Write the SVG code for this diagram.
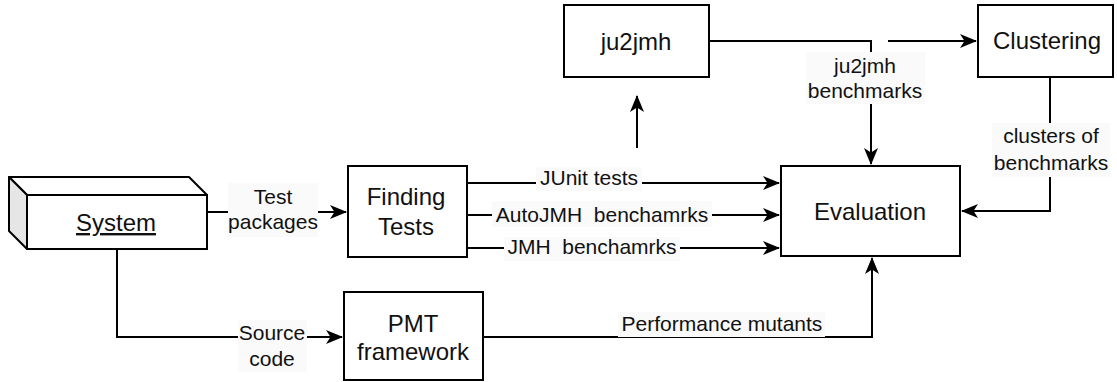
<svg xmlns="http://www.w3.org/2000/svg" width="1117" height="382" viewBox="0 0 1117 382">
  <style>
    .box { fill: #ffffff; stroke: #000000; stroke-width: 2; }
    .face { stroke: #000000; stroke-width: 2; stroke-linejoin: round; }
    .node { font-family: "Liberation Sans", Arial, sans-serif; font-size: 24px; fill: #111111; text-anchor: middle; }
    .lbl { font-family: "Liberation Sans", Arial, sans-serif; font-size: 21px; fill: #111111; text-anchor: middle; }
    .lblbg { fill: #fafafa; stroke: none; }
    .edge { fill: none; stroke: #000000; stroke-width: 2; }
  </style>
  <defs>
    <marker id="arrow" markerUnits="userSpaceOnUse" markerWidth="17" markerHeight="14" refX="16" refY="7" orient="auto" overflow="visible">
      <path d="M0,0 L17,7 L0,14 L4.5,7 Z" fill="#000000"/>
    </marker>
  </defs>

  <rect width="1117" height="382" fill="#ffffff"/>

  <!-- connectors -->
  <g id="connectors">
    <path class="edge" d="M207,212 H346" marker-end="url(#arrow)"/>
    <path class="edge" d="M117,249 V337 H342" marker-end="url(#arrow)"/>
    <path class="edge" d="M467,183 H779" marker-end="url(#arrow)"/>
    <path class="edge" d="M467,215 H779" marker-end="url(#arrow)"/>
    <path class="edge" d="M467,248 H779" marker-end="url(#arrow)"/>
    <path class="edge" d="M637,148 V96" marker-end="url(#arrow)"/>
    <path class="edge" d="M709,41 H871 V164" marker-end="url(#arrow)"/>
    <path class="edge" d="M888,41 H976" marker-end="url(#arrow)"/>
    <path class="edge" d="M1050,77 V211 H962" marker-end="url(#arrow)"/>
    <path class="edge" d="M483,337 H872 V258" marker-end="url(#arrow)"/>

    <!-- edge labels -->
    <rect class="lblbg" x="228" y="183" width="90" height="54"/>
    <text class="lbl" x="273" y="204">Test</text>
    <text class="lbl" x="273" y="229">packages</text>

    <rect class="lblbg" x="238" y="320" width="69" height="52"/>
    <text class="lbl" x="272" y="340">Source</text>
    <text class="lbl" x="272" y="366">code</text>

    <rect class="lblbg" x="536" y="167" width="106" height="24"/>
    <text class="lbl" x="589" y="185">JUnit tests</text>

    <rect class="lblbg" x="492" y="201" width="220" height="26"/>
    <text class="lbl" x="602" y="222" xml:space="preserve">AutoJMH  benchamrks</text>

    <rect class="lblbg" x="504" y="237" width="176" height="24"/>
    <text class="lbl" x="592" y="254" xml:space="preserve">JMH  benchamrks</text>

    <rect class="lblbg" x="806" y="52" width="119" height="52"/>
    <text class="lbl" x="865" y="73">ju2jmh</text>
    <text class="lbl" x="865" y="98">benchmarks</text>

    <rect class="lblbg" x="992" y="123" width="118" height="54"/>
    <text class="lbl" x="1051" y="143">clusters of</text>
    <text class="lbl" x="1051" y="170">benchmarks</text>

    <rect class="lblbg" x="618" y="312" width="207" height="25"/>
    <text class="lbl" x="722" y="331">Performance mutants</text>
  </g>

  <!-- System: 3D box -->
  <g id="system">
    <polygon class="face" points="9,177 189,177 207,195 27,195" fill="#ffffff"/>
    <polygon class="face" points="9,177 27,195 27,249 9,231" fill="#e6e6e6"/>
    <rect class="box" x="27" y="195" width="180" height="54"/>
    <text class="node" x="116" y="231" text-decoration="underline">System</text>
  </g>

  <g id="finding-tests">
    <rect class="box" x="348" y="166" width="119" height="91"/>
    <text class="node" x="406" y="205">Finding</text>
    <text class="node" x="406" y="235">Tests</text>
  </g>

  <g id="ju2jmh">
    <rect class="box" x="564" y="5" width="145" height="72"/>
    <text class="node" x="636" y="50">ju2jmh</text>
  </g>

  <g id="clustering">
    <rect class="box" x="978" y="5" width="135" height="72"/>
    <text class="node" x="1047" y="49">Clustering</text>
  </g>

  <g id="evaluation">
    <rect class="box" x="781" y="166" width="179" height="90"/>
    <text class="node" x="870" y="220">Evaluation</text>
  </g>

  <g id="pmt-framework">
    <rect class="box" x="344" y="292" width="139" height="88"/>
    <text class="node" x="413" y="332">PMT</text>
    <text class="node" x="413" y="360">framework</text>
  </g>
</svg>
